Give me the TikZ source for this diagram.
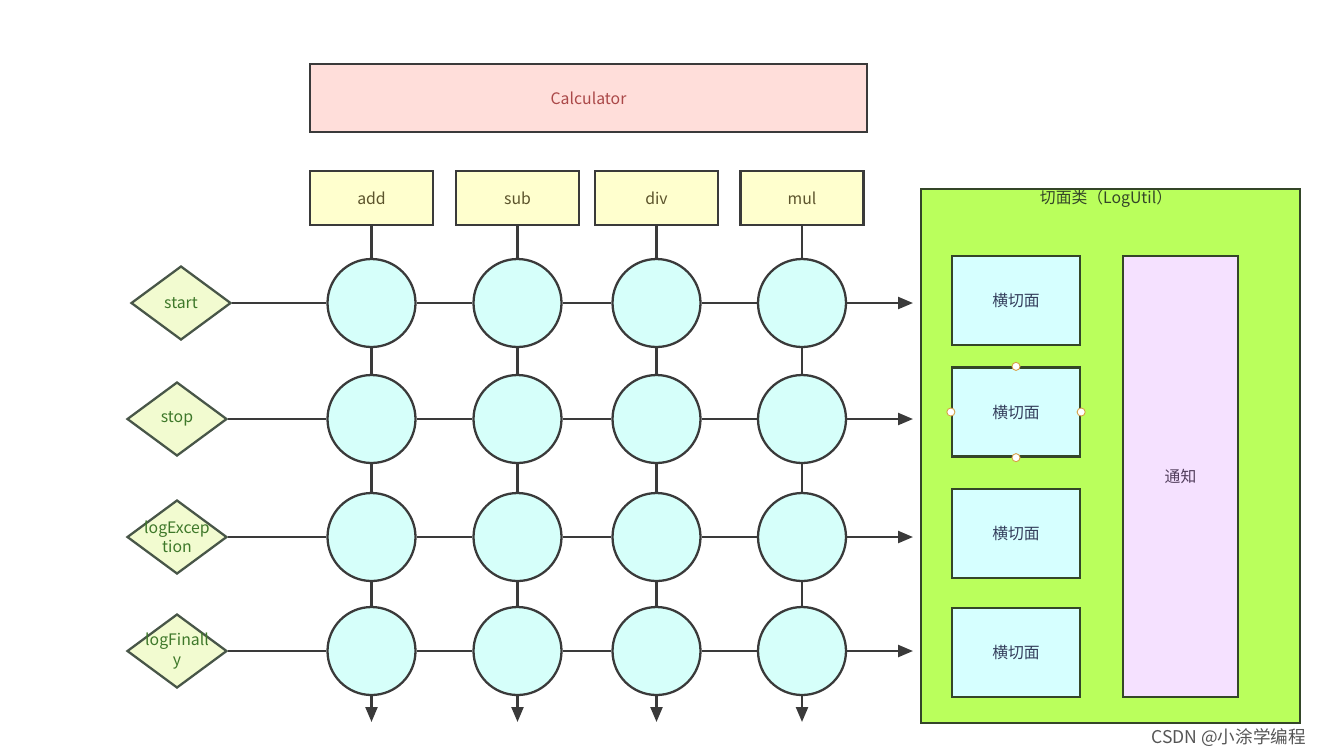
\documentclass[tikz,border=0pt]{standalone}
\usepackage{fontspec}
\setmainfont{Noto Sans CJK SC}
\usetikzlibrary{shapes.geometric,arrows.meta}

\definecolor{linegray}{RGB}{58,58,58}
\definecolor{calcfill}{RGB}{255,222,218}
\definecolor{calctext}{RGB}{170,72,72}
\definecolor{methodfill}{RGB}{255,255,206}
\definecolor{methodtext}{RGB}{92,84,44}
\definecolor{jointfill}{RGB}{214,255,250}
\definecolor{diamfill}{RGB}{242,251,208}
\definecolor{diamline}{RGB}{72,86,72}
\definecolor{diamtext}{RGB}{62,120,42}
\definecolor{aspectfill}{RGB}{186,255,92}
\definecolor{aspectline}{RGB}{52,70,40}
\definecolor{cutfill}{RGB}{214,255,255}
\definecolor{cuttext}{RGB}{52,62,92}
\definecolor{noticefill}{RGB}{245,225,255}
\definecolor{noticetext}{RGB}{82,62,92}
\definecolor{handleline}{RGB}{214,160,70}
\definecolor{csdngray}{RGB}{85,85,85}

\begin{document}
\begin{tikzpicture}[x=0.02cm,y=-0.02cm,
        font=\fontsize{9}{11}\selectfont,
        calc/.style={rectangle,draw=linegray,line width=1.3pt,fill=calcfill,text=calctext,
            minimum width=11.14cm,minimum height=1.36cm},
        method/.style={rectangle,draw=linegray,line width=1.3pt,fill=methodfill,text=methodtext,
            minimum width=2.46cm,minimum height=1.08cm},
        joint/.style={circle,draw=linegray,line width=1.3pt,fill=jointfill,
            minimum size=1.76cm,inner sep=0pt},
        advice/.style={diamond,draw=diamline,line width=1.3pt,fill=diamfill,text=diamtext,
            minimum width=2cm,minimum height=1.48cm,inner sep=0pt,align=center},
        aspect/.style={rectangle,draw=aspectline,line width=1.3pt,fill=aspectfill,
            minimum width=7.58cm,minimum height=10.68cm},
        cut/.style={rectangle,draw=aspectline,line width=1.3pt,fill=cutfill,text=cuttext,
            minimum width=2.56cm,minimum height=1.78cm},
        notice/.style={rectangle,draw=aspectline,line width=1.3pt,fill=noticefill,text=noticetext,
            minimum width=2.3cm,minimum height=8.82cm},
        handle/.style={draw=handleline,fill=white,line width=0.5pt},
        link/.style={draw=linegray,line width=1.3pt},
        flow/.style={link,-{Triangle[length=0.3cm,width=0.24cm]}}]
    \useasboundingbox (0,0) rectangle (1324,755);

    % target class and its methods
    \node[calc] (calc) at (588.5,98) {Calculator};
    \foreach \name/\x [count=\j] in {add/371.5,sub/517.5,div/656.5,mul/802} {
        \node[method] (m\j) at (\x,198) {\name};
        \foreach \y [count=\i] in {303,419,537,651}
            \node[joint] (c\i\j) at (\x,\y) {};
        \coordinate (b\j) at (\x,722);
    }

    % advice points
    \node[advice] (start) at (181,303) {start};
    \node[advice] (stop) at (177,419) {stop};
    \node[advice] (exc) at (177,537) {\makebox[0pt]{logExcep}\\\makebox[0pt]{tion}};
    \node[advice] (fin) at (177,651) {\makebox[0pt]{logFinall}\\\makebox[0pt]{y}};

    % aspect class
    \node[aspect] (aspect) at (1110.5,456) {};
    \node[text=aspectline] (aspecttitle) at (1106,199) {切面类（LogUtil）};
    \foreach \y [count=\i] in {300.5,412,533.5,652.5}
        \node[cut] (cut\i) at (1016,\y) {横切面};
    \node[notice] (notice) at (1180.5,476.5) {通知};
    \foreach \a in {north,south,east,west}
        \draw[handle] (cut2.\a) circle[radius=2.3pt];

    % connectors
    \foreach \d [count=\i] in {start,stop,exc,fin} {
        \coordinate (e\i) at (913,0 |- c\i4);
        \draw[link] (\d) -- (c\i1) -- (c\i2) -- (c\i3) -- (c\i4);
        \draw[flow] (c\i4) -- (e\i);
    }
    \foreach \j in {1,...,4} {
        \draw[link] (m\j) -- (c1\j) -- (c2\j) -- (c3\j) -- (c4\j);
        \draw[flow] (c4\j) -- (b\j);
    }

    \node[anchor=east,text=csdngray,font=\fontsize{10}{12}\selectfont] (csdn) at (1312,738) {CSDN @小涂学编程};
\end{tikzpicture}
\end{document}
